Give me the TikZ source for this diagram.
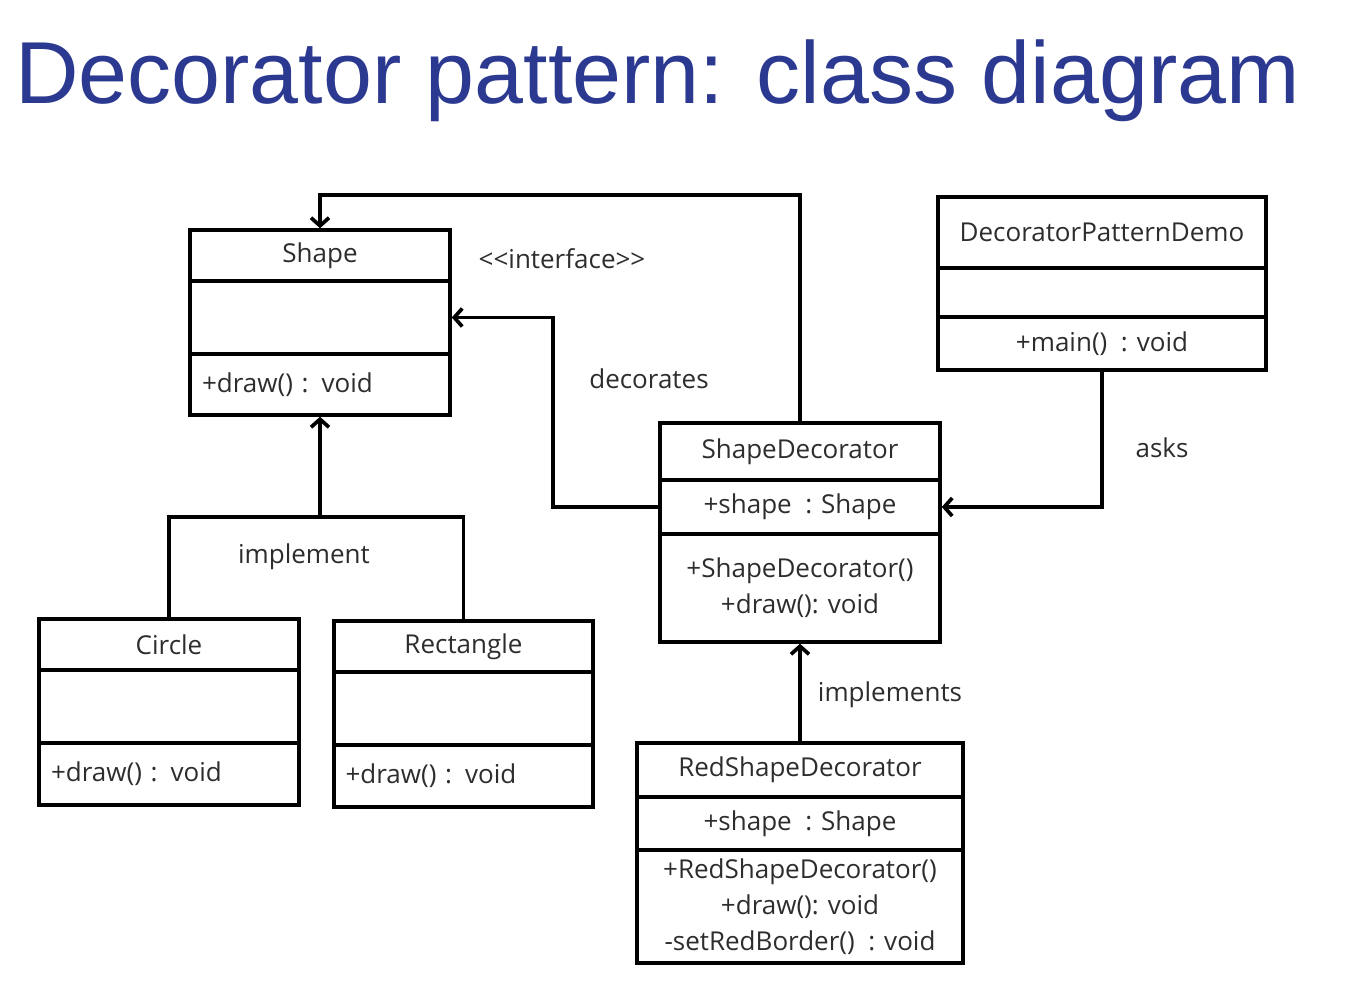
\documentclass[tikz,border=0pt]{standalone}
\usepackage{fontspec}
\setmainfont{Open Sans}
\newfontfamily\titlefont{Liberation Sans}
\usetikzlibrary{arrows.meta}
\definecolor{titleblue}{RGB}{43,57,144}
\definecolor{umltext}{RGB}{45,45,45}
\begin{document}
\begin{tikzpicture}[x=1pt,y=-1pt,
    cls/.style 2 args={draw,line width=3.5pt,minimum width=#1,minimum height=#2,inner sep=0pt,align=center},
    opsl/.style={text width=236pt,align=left},
    lbl/.style={inner sep=0pt},
    conn/.style={line width=3.7pt},
    arr/.style={conn,-{Straight Barb[length=8pt,width=18pt]}},
    every node/.style={font=\fontsize{26}{36}\selectfont,text=umltext}]
    \useasboundingbox (0,0) rectangle (1365,998);
    \node[font=\titlefont\fontsize{88}{88}\selectfont,text=titleblue,anchor=base west,inner sep=0pt] (title) at (15,103) {Decorator pattern: class diagram};
    \node[cls={260}{51}] (shT) at (320,255.5) {Shape};
    \node[cls={260}{73}] (shA) at (320,317.5) {};
    \node[cls={260}{61},opsl] (shO) at (320,384.5) {+draw() : void};
    \node[cls={260}{51}] (ciT) at (169,644.5) {Circle};
    \node[cls={260}{73}] (ciA) at (169,706.5) {};
    \node[cls={260}{62},opsl] (ciO) at (169,774) {+draw() : void};
    \node[cls={259}{51}] (reT) at (463.5,646.5) {Rectangle};
    \node[cls={259}{73}] (reA) at (463.5,708.5) {};
    \node[cls={259}{62},opsl] (reO) at (463.5,776) {+draw() : void};
    \node[cls={280}{57}] (sdT) at (800,451.5) {ShapeDecorator};
    \node[cls={280}{54}] (sdA) at (800,507) {+shape~ : Shape};
    \node[cls={280}{108}] (sdO) at (800,588) {+ShapeDecorator()\\+draw(): void};
    \node[cls={328}{71}] (dmT) at (1102,232.5) {DecoratorPatternDemo};
    \node[cls={328}{49}] (dmA) at (1102,292.5) {};
    \node[cls={328}{53}] (dmO) at (1102,343.5) {+main()~ : void};
    \node[cls={326}{54}] (rsT) at (800,770) {RedShapeDecorator};
    \node[cls={326}{53}] (rsA) at (800,823.5) {+shape~ : Shape};
    \node[cls={326}{113}] (rsO) at (800,906.5) {+RedShapeDecorator()\\+draw(): void\\-setRedBorder()~ : void};
    \draw[arr] (sdT.north) |- (560,195) -| (shT.north);
    \draw[arr] (sdA.west) -- ++(-105,0) |- (shA.east);
    \coordinate (imp) at (320,517);
    \draw[conn] (ciT.north) |- (reT.north |- imp) -- (reT.north);
    \draw[arr] (imp) -- (shO.south);
    \draw[arr] (dmO.south) |- (sdA.east);
    \draw[arr] (rsT.north) -- (sdO.south);
    \node[lbl] (iface) at (562,259) {<{}<interface>{}>};
    \node[lbl] (deco) at (649,379) {decorates};
    \node[lbl] (asks) at (1162,448) {asks};
    \node[lbl] (impls) at (890,695) {implements};
    \node[lbl] (impl) at (304,557) {implement};
\end{tikzpicture}
\end{document}
